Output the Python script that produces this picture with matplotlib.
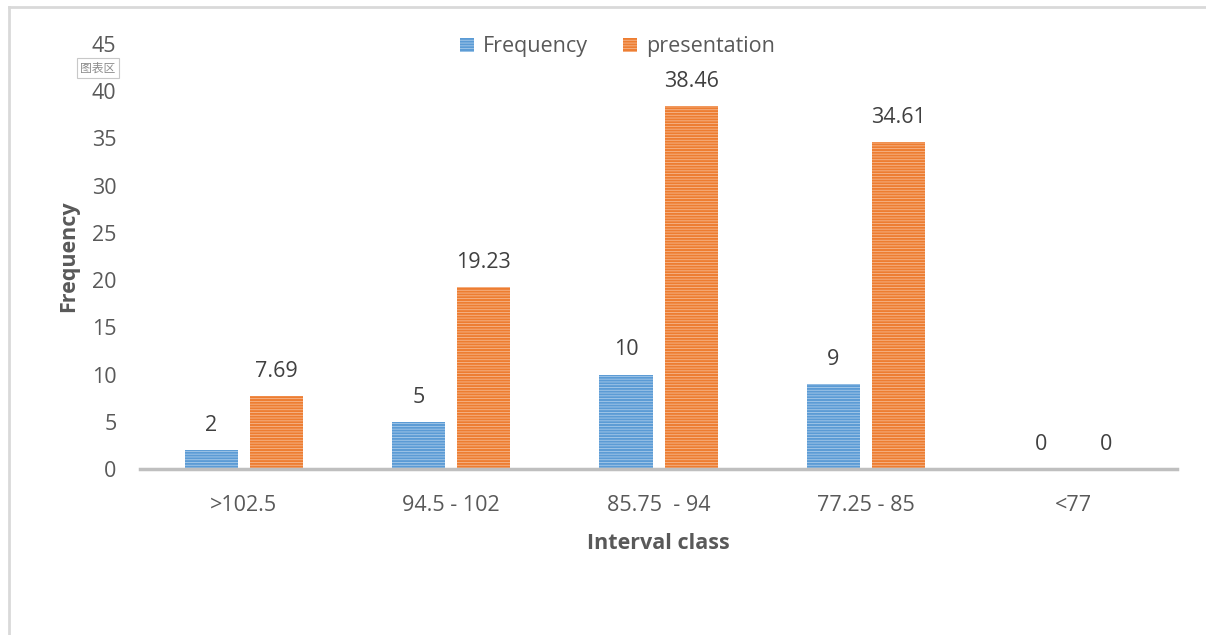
import numpy as np
import matplotlib
matplotlib.use("Agg")
import matplotlib.pyplot as plt
from matplotlib.lines import Line2D
from matplotlib.patches import Patch

categories = [">102.5", "94.5 - 102", "85.75  - 94", "77.25 - 85", "<77"]
frequency = [2, 5, 10, 9, 0]
presentation = [7.69, 19.23, 38.46, 34.61, 0]
freq_labels = ["2", "5", "10", "9", "0"]
pres_labels = ["7.69", "19.23", "38.46", "34.61", "0"]

BLUE, ORANGE = "#5B9BD5", "#ED7D31"
TXT = "#595959"
FS = 15.5

plt.rcParams["font.family"] = ["Open Sans", "DejaVu Sans"]
plt.rcParams["hatch.linewidth"] = 0.6

fig = plt.figure(figsize=(12.06, 6.35), dpi=100)
ax = fig.add_axes([0.1161, 0.2614, 0.86, 0.6693])

x = np.arange(len(categories))
w, off = 0.256, 0.157
b1 = ax.bar(x - off, frequency, w, color=BLUE, hatch="------",
            edgecolor="#A9CBEA", linewidth=0)
b2 = ax.bar(x + off, presentation, w, color=ORANGE, hatch="------",
            edgecolor="#F6B88F", linewidth=0)

for xi, v, s in zip(x - off, frequency, freq_labels):
    ax.text(xi, v + 1.5, s, ha="center", va="bottom", fontsize=FS, color="#404040")
for xi, v, s in zip(x + off, presentation, pres_labels):
    ax.text(xi, v + 1.5, s, ha="center", va="bottom", fontsize=FS, color="#404040")

ax.set_xlim(-0.5, len(categories) - 0.5)
ax.set_ylim(0, 45)
ax.set_yticks(np.arange(0, 46, 5))
ax.set_xticks(x)
ax.set_xticklabels(categories)
ax.tick_params(axis="both", length=0, labelsize=FS, colors=TXT)
ax.tick_params(axis="x", pad=19)
ax.tick_params(axis="y", pad=17)
for side in ("top", "right", "left"):
    ax.spines[side].set_visible(False)
ax.spines["bottom"].set_color("#BFBFBF")
ax.spines["bottom"].set_linewidth(2.5)

ax.set_xlabel("Interval class", fontsize=FS, fontweight="bold", color=TXT, labelpad=12)
ax.set_ylabel("Frequency", fontsize=FS, fontweight="bold", color=TXT, labelpad=9)

handles = [Patch(facecolor=BLUE, hatch="------", edgecolor="#A9CBEA", linewidth=0),
           Patch(facecolor=ORANGE, hatch="------", edgecolor="#F6B88F", linewidth=0)]
leg = fig.legend(handles, ["Frequency", "presentation"], loc="center",
                 bbox_to_anchor=(0.512, 0.926), ncol=2, frameon=False,
                 fontsize=FS, handlelength=0.65, handleheight=0.65,
                 handletextpad=0.45, columnspacing=1.6)
for t in leg.get_texts():
    t.set_color(TXT)

# chart-area frame (top and left edges)
fig.add_artist(Line2D([9 / 1206, 1], [1 - 7 / 635] * 2, color="#D9D9D9", lw=2))
fig.add_artist(Line2D([9 / 1206] * 2, [0, 1 - 7 / 635], color="#D9D9D9", lw=2))

# hover tooltip
fig.text(98 / 1206, 1 - 68 / 635, "图表区", ha="center", va="center", fontsize=8.5,
         color="#8C8C8C", family=["Noto Sans CJK SC", "DejaVu Sans"],
         bbox=dict(boxstyle="square,pad=0.3", facecolor="white",
                   edgecolor="#C8C8C8", linewidth=0.8))

fig.savefig("out.png", dpi=100, facecolor="white")
